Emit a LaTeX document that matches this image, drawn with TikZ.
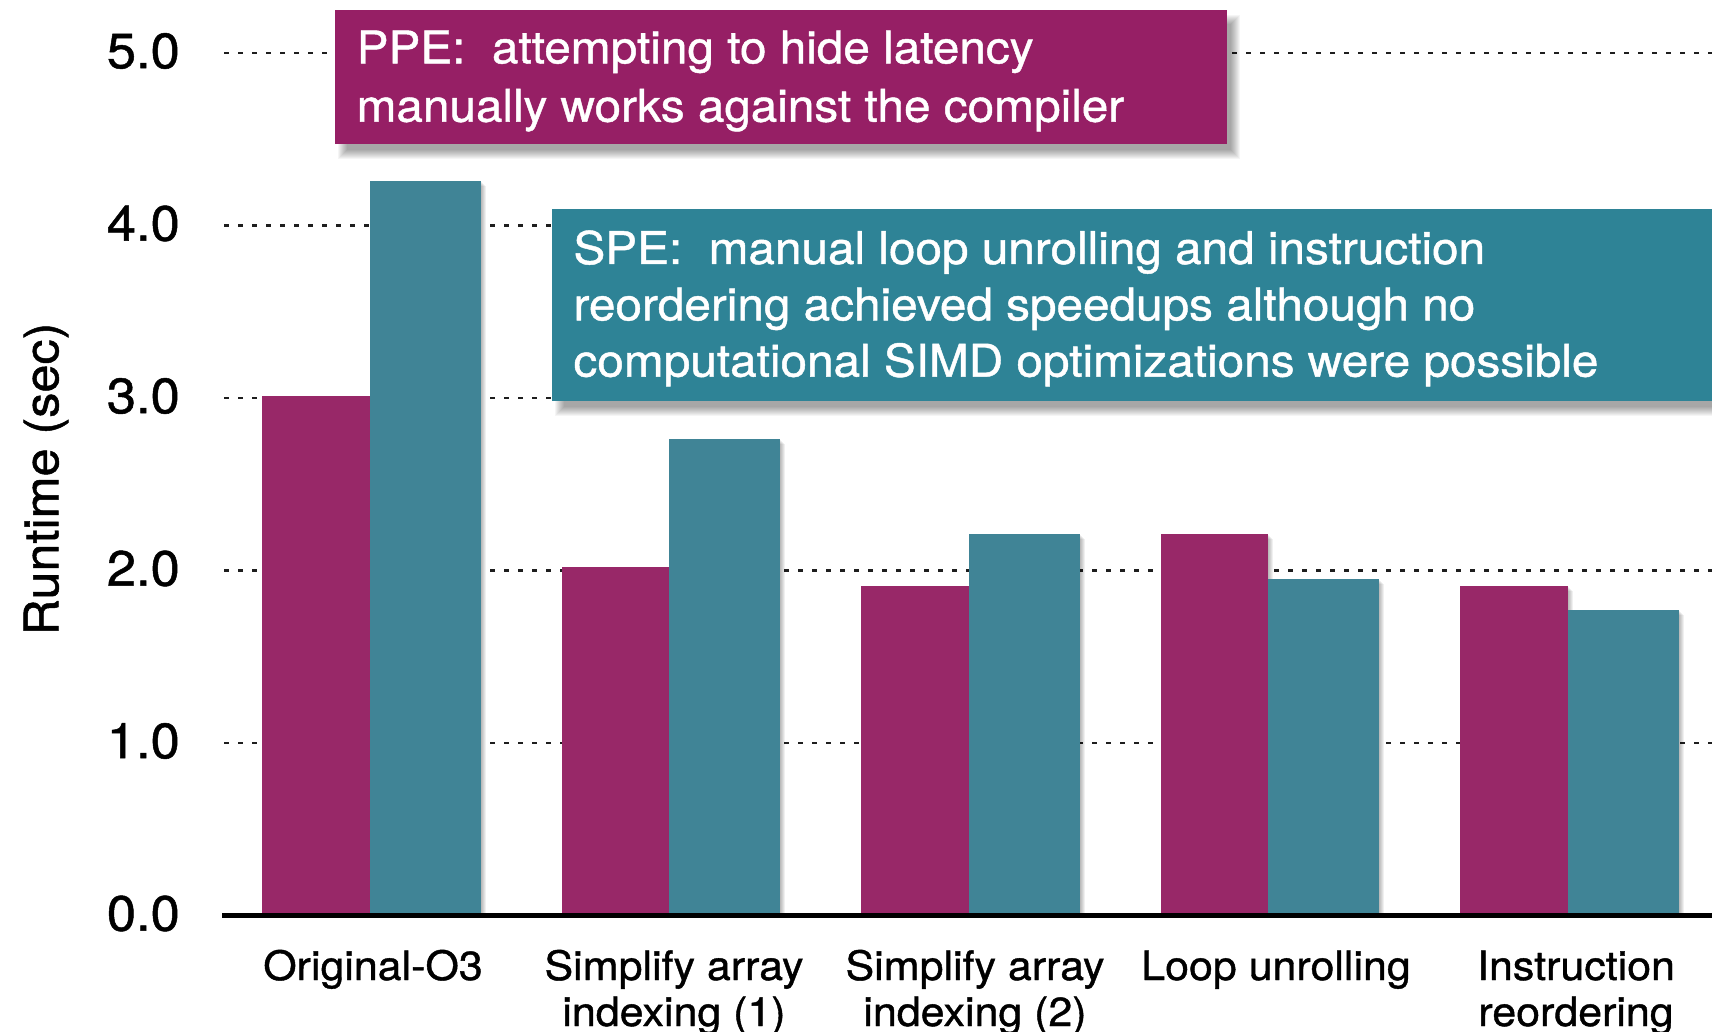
\documentclass[tikz,border=0pt]{standalone}
\usepackage{fontspec}
\setmainfont{TeX Gyre Heros}[FakeStretch=1.06, FakeBold=1]
\definecolor{ppebar}{RGB}{152,40,104}
\definecolor{spebar}{RGB}{64,132,150}
\definecolor{ppefill}{RGB}{150,31,101}
\definecolor{spefill}{RGB}{46,131,150}
\definecolor{gridcol}{RGB}{30,30,30}

\tikzset{
  gridline/.style={draw=gridcol, line width=2.7pt, dash pattern=on 5pt off 9pt},
  axisline/.style={draw=black, line width=4.5pt},
  ticklabel/.style={anchor=east, inner sep=0pt, font=\fontsize{49.5}{55}\selectfont},
  catlabel/.style={anchor=base, inner sep=0pt, font=\fontsize{40.5}{46}\selectfont},
  boxtext/.style={anchor=base west, inner sep=0pt, text=white, font=\fontsize{45}{56}\selectfont},
  notebox/.style={anchor=north west, inner sep=0pt, draw=none},
}

\begin{document}
\begin{tikzpicture}[x=1pt,y=-1pt]
\useasboundingbox (0,0) rectangle (1712,1032);
\fill[white] (0,0) rectangle (1712,1032);

% dotted gridlines at 1.0 ... 5.0
\foreach \v in {1,...,5}
  \draw[gridline] (224,{915.5-172.5*\v}) -- (1712,{915.5-172.5*\v});

% bars: PPE (magenta) and SPE (teal) runtimes per version
\foreach \i/\p/\s in {0/3.01/4.26, 1/2.02/2.76, 2/1.91/2.21, 3/2.21/1.95, 4/1.91/1.77} {
  \pgfmathsetmacro\xa{262+299.6*\i}
  \pgfmathsetmacro\xb{\xa+107.5}
  \pgfmathsetmacro\xc{\xb+111}
  \pgfmathsetmacro\yp{915.5-172.5*\p}
  \pgfmathsetmacro\ys{915.5-172.5*\s}
  \foreach \k in {1,...,5} {
    \fill[black,opacity=0.06] ({\xa+\k},{\yp+\k}) rectangle ({\xb+\k},915.5);
    \fill[black,opacity=0.06] ({\xb+\k},{\ys+\k}) rectangle ({\xc+\k},915.5);
  }
  \fill[spebar] (\xb,\ys) rectangle (\xc,915.5);
  \fill[ppebar] (\xa,\yp) rectangle (\xb,915.5);
}

% x axis
\draw[axisline] (222,915.5) -- (1712,915.5);

% tick labels
\foreach \v in {0,...,5}
  \node[ticklabel] (tick\v) at (180,{913.5-172.5*\v}) {\v.0};

% axis title
\node[rotate=90, inner sep=0pt, font=\fontsize{47.5}{52}\selectfont] (ytitle) at (46,479) {Runtime (sec)};

% category labels
\node[catlabel] (cat1a) at (373,980) {Original-O3};
\node[catlabel] (cat2a) at (674,980) {Simplify array};
\node[catlabel] (cat2b) at (674,1026) {indexing (1)};
\node[catlabel] (cat3a) at (975,980) {Simplify array};
\node[catlabel] (cat3b) at (975,1026) {indexing (2)};
\node[catlabel] (cat4a) at (1276,980) {Loop unrolling};
\node[catlabel] (cat5a) at (1576,980) {Instruction};
\node[catlabel] (cat5b) at (1576,1026) {reordering};

% note boxes
\node[notebox, minimum width=891.7, minimum height=134] (ppe) at (335,10) {};
\node[notebox, minimum width=1170, minimum height=192] (spe) at (551.7,209) {};

% soft shadows under the note boxes
\foreach \b in {ppe,spe}
  \foreach \k in {1,...,10} {
    \pgfmathsetmacro\e{6-\k}
    \fill[black,opacity=0.04]
      ([xshift={(8-\e)*1pt}, yshift={-(10-\e)*1pt}]\b.north west) rectangle
      ([xshift={(8+\e)*1pt}, yshift={-(10+\e)*1pt}]\b.south east);
  }
\fill[ppefill] (ppe.north west) rectangle (ppe.south east);
\fill[spefill] (spe.north west) rectangle (spe.south east);

\node[boxtext] (ppe1) at (356.5,63.3) {PPE:\ \ attempting to hide latency};
\node[boxtext] (ppe2) at (356.5,121.7) {manually works against the compiler};

\node[boxtext] (spe1) at (573.3,264) {SPE:\ \ manual loop unrolling and instruction};
\node[boxtext] (spe2) at (573.3,320.3) {reordering achieved speedups although no};
\node[boxtext] (spe3) at (573.3,376.6) {computational SIMD optimizations were possible};
\end{tikzpicture}
\end{document}
